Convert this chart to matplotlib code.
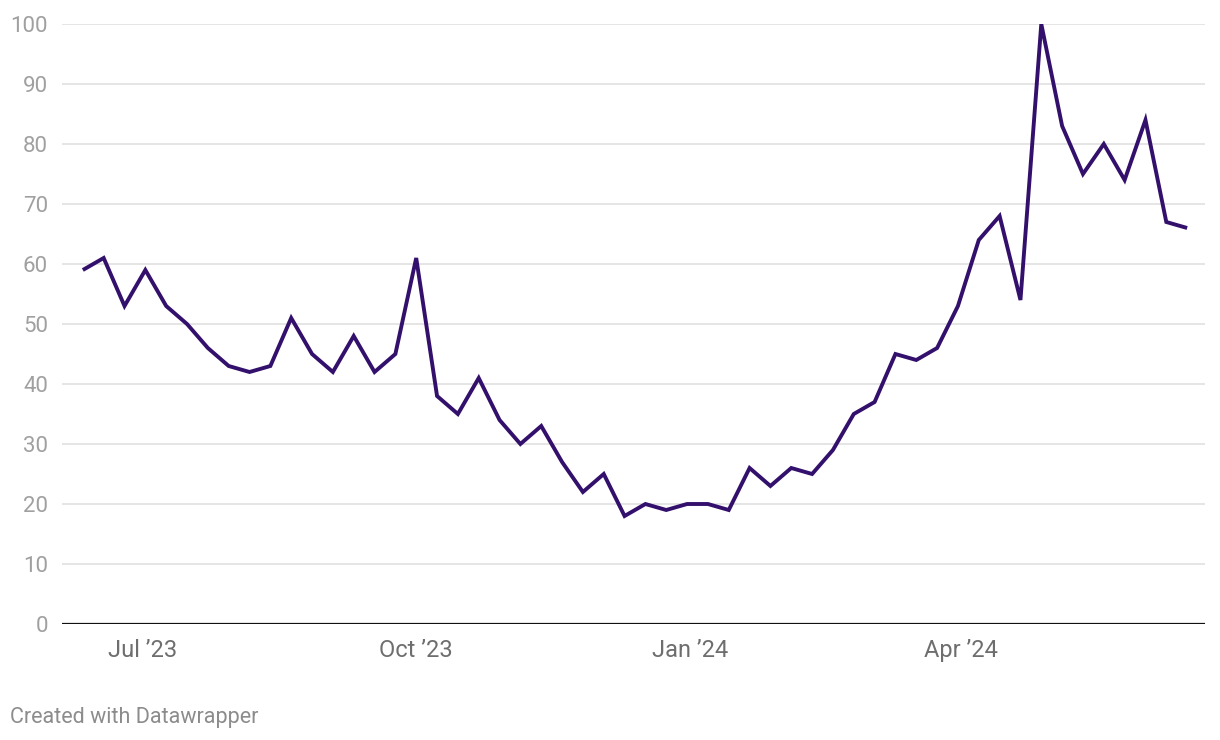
#!/usr/bin/env python3
"""
Weekly interest index, June 2023 - June 2024, Datawrapper-style line chart.
"""
import pandas as pd
import matplotlib.pyplot as plt
import matplotlib.dates as mdates

plt.rcParams['font.family'] = ['Roboto', 'DejaVu Sans']

COLORS = {
    'line': '#33106b',
    'grid': '#e3e3e3',
    'ytick': '#a0a0a0',
    'xtick': '#6e6e6e',
    'credit': '#8c8c8c',
}

# Weekly values (week starting Sunday)
start_week = '2023-06-11'
values = [59, 61, 53, 59, 53, 50, 46, 43, 42, 43,
          51, 45, 42, 48, 42, 45, 61, 38, 35, 41,
          34, 30, 33, 27, 22, 25, 18, 20, 19, 20,
          20, 19, 26, 23, 26, 25, 29, 35, 37, 45,
          44, 46, 53, 64, 68, 54, 100, 83, 75, 80,
          74, 84, 67, 66]
y_ticks = [0, 10, 20, 30, 40, 50, 60, 70, 80, 90, 100]
x_ticks = ['2023-07-01', '2023-10-01', '2024-01-01', '2024-04-01']
x_labels = ['Jul \u201923', 'Oct \u201923', 'Jan \u201924', 'Apr \u201924']

dates = pd.date_range(start_week, periods=len(values), freq='7D')

fig = plt.figure(figsize=(12.2, 7.4), dpi=100)
ax = fig.add_axes([62 / 1220, 1 - 624 / 740, (1205 - 62) / 1220, 600 / 740])

ax.plot(dates, values, color=COLORS['line'], linewidth=2.8,
        solid_joinstyle='miter', solid_capstyle='butt', zorder=3)

# Horizontal grid, black baseline at zero
for y in y_ticks[1:]:
    ax.axhline(y, color=COLORS['grid'], linewidth=1.3, zorder=1)
ax.axhline(0, color='#111111', linewidth=1.6, zorder=4)

ax.set_ylim(0, 100)
ax.set_xlim(pd.Timestamp('2023-06-04'), pd.Timestamp('2024-06-22'))

ax.set_yticks(y_ticks)
ax.set_yticklabels([str(v) for v in y_ticks], fontsize=16, color=COLORS['ytick'])
ax.set_xticks([pd.Timestamp(d) for d in x_ticks])
ax.set_xticklabels(x_labels, fontsize=17, color=COLORS['xtick'])
ax.tick_params(axis='y', length=0, pad=10)
ax.tick_params(axis='x', length=0, pad=11)

for side in ['top', 'right', 'left', 'bottom']:
    ax.spines[side].set_visible(False)
ax.set_facecolor('white')

fig.text(10 / 1220, 1 - 717 / 740, 'Created with Datawrapper', fontsize=15.5,
         color=COLORS['credit'], ha='left', va='center')

fig.savefig('out.png', dpi=100, facecolor='white')
plt.close(fig)
